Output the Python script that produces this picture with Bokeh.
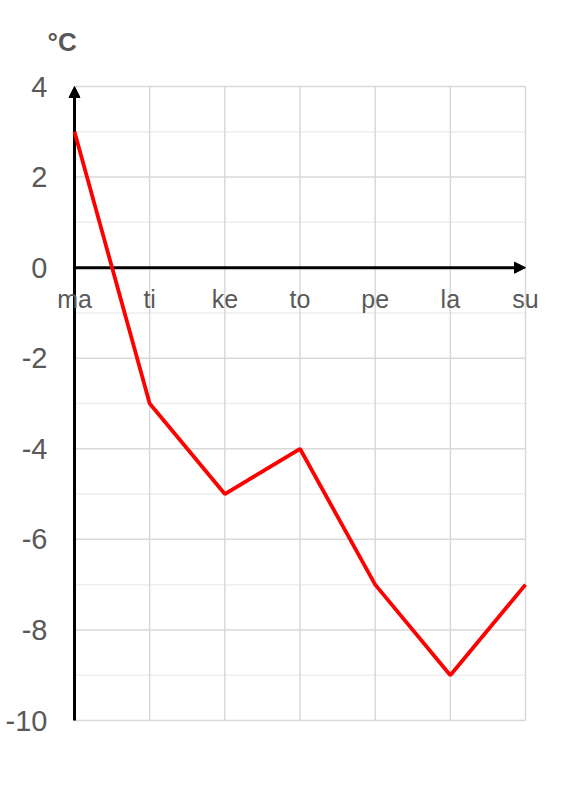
from bokeh.plotting import figure
from bokeh.models import (Range1d, FixedTicker, Arrow, NormalHead, LabelSet,
                          ColumnDataSource, LinearAxis)
from bokeh.core.properties import value
from bokeh.embed import file_html
from bokeh.resources import INLINE

days = ["ma", "ti", "ke", "to", "pe", "la", "su"]
temps = [3, -3, -5, -4, -7, -9, -7]
y_major = [-10, -8, -6, -4, -2, 0, 2, 4]
y_labels = ["-10", "-8", "-6", "-4", "-2", "0", "2", "4"]
y_minor = [-9, -7, -5, -3, -1, 1, 3]
unit_label = "°C"

x_idx = list(range(len(days)))
x_lo, x_hi = 0, len(days) - 1
y_lo, y_hi = y_major[0], y_major[-1]
FONT = "Liberation Sans"
GRAY = "#595959"

# pixel geometry of the plotting area
GRID_W, GRID_H = 451, 634
PAD_L, PAD_R, PAD_T, PAD_B = 20, 30, 10, 10
x_ppu = GRID_W / (x_hi - x_lo)
y_ppu = GRID_H / (y_hi - y_lo)
x_range = Range1d(x_lo - PAD_L / x_ppu, x_hi + PAD_R / x_ppu)
y_range = Range1d(y_lo - PAD_B / y_ppu, y_hi + PAD_T / y_ppu)

BL, BT, BR, BB = 54, 76, 10, 40
p = figure(width=BL + GRID_W + PAD_L + PAD_R + BR, height=BT + GRID_H + PAD_T + PAD_B + BB,
           output_backend="svg", toolbar_location=None,
           x_range=x_range, y_range=y_range,
           x_axis_location=None, y_axis_location=None,
           min_border_left=BL, min_border_top=BT, min_border_right=BR, min_border_bottom=BB)
p.outline_line_color = None
p.background_fill_color = "white"
p.border_fill_color = "white"
p.xgrid.visible = False
p.ygrid.visible = False

yaxis = LinearAxis(ticker=FixedTicker(ticks=y_major))
yaxis.major_label_overrides = {t: s for t, s in zip(y_major, y_labels)}
yaxis.axis_line_color = None
yaxis.major_tick_line_color = None
yaxis.minor_tick_line_color = None
yaxis.major_tick_out = 0
yaxis.major_tick_in = 0
yaxis.major_label_standoff = 7
yaxis.major_label_text_font = FONT
yaxis.major_label_text_font_size = "29px"
yaxis.major_label_text_color = GRAY
p.add_layout(yaxis, "left")

# title as the unit label
p.title.text = unit_label
p.title.text_font = FONT
p.title.text_font_size = "26px"
p.title.text_font_style = "bold"
p.title.text_color = GRAY
p.title.align = "left"
p.title.offset = -7
p.title.standoff = 40

# grid lines restricted to the data area
r_min = p.segment(x0=[x_lo] * len(y_minor), x1=[x_hi] * len(y_minor), y0=y_minor, y1=y_minor,
                  line_color="#eeeeee", line_width=1.5)
r_maj = p.segment(x0=[x_lo] * len(y_major), x1=[x_hi] * len(y_major), y0=y_major, y1=y_major,
                  line_color="#d9d9d9", line_width=1.5)
r_vx = p.segment(x0=x_idx, x1=x_idx, y0=[y_lo] * len(x_idx), y1=[y_hi] * len(x_idx),
                 line_color="#d9d9d9", line_width=1.5)
for r in (r_min, r_maj, r_vx):
    r.level = "image"

head_y = NormalHead(size=11, fill_color="black", line_color="black")
head_x = NormalHead(size=11, fill_color="black", line_color="black")
ay = Arrow(end=head_y, x_start=0, y_start=y_lo, x_end=0, y_end=y_hi,
           line_width=3, line_color="black", level="underlay")
ax = Arrow(end=head_x, x_start=x_lo, y_start=0, x_end=x_hi, y_end=0,
           line_width=3, line_color="black", level="underlay")
p.add_layout(ay)
p.add_layout(ax)

src = ColumnDataSource(dict(x=x_idx, y=temps, day=days, zero=[0] * len(days)))
p.line("x", "y", source=src, line_color="#ff0000", line_width=3.8)

labels = LabelSet(x="x", y="zero", text="day", source=src, text_align="center",
                  text_baseline="alphabetic", y_offset=-40,
                  text_font=value(FONT), text_font_size=value("25px"), text_color=GRAY)
p.add_layout(labels)

open("out.html", "w").write(file_html(p, INLINE))
